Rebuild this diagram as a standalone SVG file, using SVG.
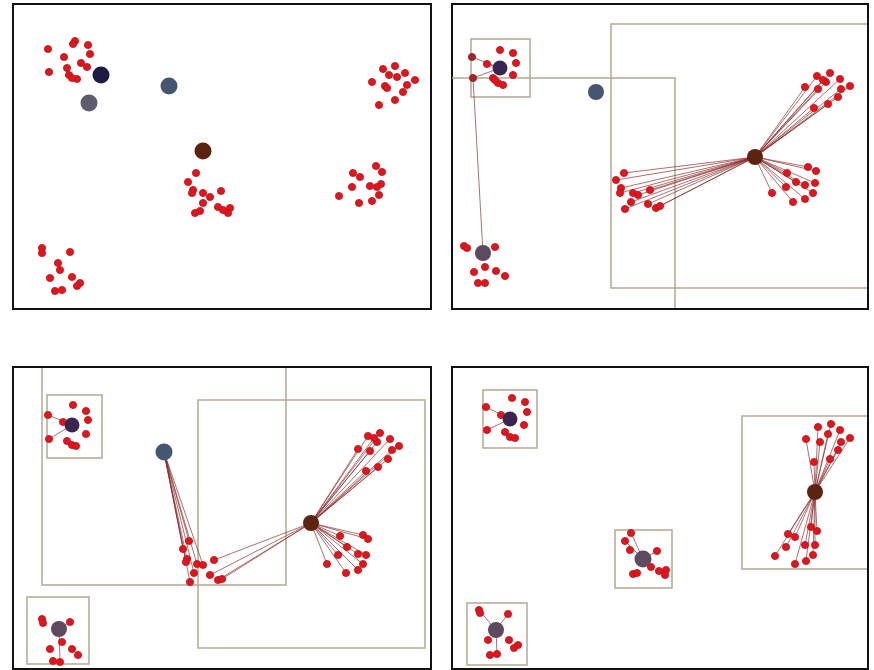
<svg xmlns="http://www.w3.org/2000/svg" width="874" height="670" viewBox="0 0 874 670">
<style>
.frame{fill:#fff;stroke:#111;stroke-width:2}
.p{fill:#e3141c;stroke:#b8141a;stroke-width:0.8}
.pd{fill:#a8242a;stroke:#8a1c20;stroke-width:0.8}
.b{fill:none;stroke:#b3a892;stroke-width:1.5}
.l{stroke:#8c2a2a;stroke-width:0.8;stroke-opacity:0.85}
.navy{fill:#1d1a42}
.gray{fill:#5f5d6c}
.slate{fill:#455670}
.brown{fill:#5c2410}
.purple{fill:#3c2450}
.gp{fill:#5e4a5e}
</style>
<defs>
<clipPath id="c2"><rect x="452" y="5" width="415" height="303"/></clipPath>
<clipPath id="c3"><rect x="13" y="368" width="417" height="300"/></clipPath>
<clipPath id="c4"><rect x="452" y="368" width="415" height="300"/></clipPath>
</defs>

<rect id="panel1" class="frame" x="13" y="4" width="418" height="305"/>
<rect id="panel2" class="frame" x="452" y="4" width="416" height="305"/>
<rect id="panel3" class="frame" x="13" y="367" width="418" height="302"/>
<rect id="panel4" class="frame" x="452" y="367" width="416" height="302"/>

<!-- Panel 1 -->
<g id="p1-points">
<circle class="p" cx="48" cy="49" r="3.6"/><circle class="p" cx="75" cy="41" r="3.6"/><circle class="p" cx="73" cy="44" r="3.6"/><circle class="p" cx="88" cy="45" r="3.6"/><circle class="p" cx="90" cy="54" r="3.6"/><circle class="p" cx="64" cy="57" r="3.6"/><circle class="p" cx="81" cy="63" r="3.6"/><circle class="p" cx="87" cy="67" r="3.6"/><circle class="p" cx="49" cy="72" r="3.6"/><circle class="p" cx="67" cy="68" r="3.6"/><circle class="p" cx="69" cy="75" r="3.6"/><circle class="p" cx="77" cy="79" r="3.6"/><circle class="p" cx="72" cy="78" r="3.6"/>
<circle class="p" cx="196" cy="173" r="3.6"/><circle class="p" cx="188" cy="182" r="3.6"/><circle class="p" cx="193" cy="190" r="3.6"/><circle class="p" cx="192" cy="193" r="3.6"/><circle class="p" cx="203" cy="193" r="3.6"/><circle class="p" cx="210" cy="197" r="3.6"/><circle class="p" cx="221" cy="191" r="3.6"/><circle class="p" cx="203" cy="203" r="3.6"/><circle class="p" cx="200" cy="211" r="3.6"/><circle class="p" cx="195" cy="213" r="3.6"/><circle class="p" cx="218" cy="207" r="3.6"/><circle class="p" cx="230" cy="208" r="3.6"/><circle class="p" cx="228" cy="213" r="3.6"/><circle class="p" cx="223" cy="210" r="3.6"/>
<circle class="p" cx="383" cy="69" r="3.6"/><circle class="p" cx="395" cy="66" r="3.6"/><circle class="p" cx="405" cy="73" r="3.6"/><circle class="p" cx="415" cy="80" r="3.6"/><circle class="p" cx="372" cy="82" r="3.6"/><circle class="p" cx="385" cy="86" r="3.6"/><circle class="p" cx="397" cy="77" r="3.6"/><circle class="p" cx="389" cy="75" r="3.6"/><circle class="p" cx="407" cy="85" r="3.6"/><circle class="p" cx="403" cy="92" r="3.6"/><circle class="p" cx="395" cy="100" r="3.6"/><circle class="p" cx="379" cy="105" r="3.6"/><circle class="p" cx="387" cy="88" r="3.6"/>
<circle class="p" cx="376" cy="166" r="3.6"/><circle class="p" cx="382" cy="172" r="3.6"/><circle class="p" cx="353" cy="173" r="3.6"/><circle class="p" cx="360" cy="177" r="3.6"/><circle class="p" cx="352" cy="187" r="3.6"/><circle class="p" cx="370" cy="186" r="3.6"/><circle class="p" cx="381" cy="184" r="3.6"/><circle class="p" cx="379" cy="195" r="3.6"/><circle class="p" cx="339" cy="196" r="3.6"/><circle class="p" cx="359" cy="203" r="3.6"/><circle class="p" cx="372" cy="201" r="3.6"/><circle class="p" cx="377" cy="187" r="3.6"/>
<circle class="p" cx="42" cy="248" r="3.6"/><circle class="p" cx="42" cy="253" r="3.6"/><circle class="p" cx="70" cy="252" r="3.6"/><circle class="p" cx="58" cy="263" r="3.6"/><circle class="p" cx="60" cy="270" r="3.6"/><circle class="p" cx="50" cy="278" r="3.6"/><circle class="p" cx="72" cy="277" r="3.6"/><circle class="p" cx="80" cy="283" r="3.6"/><circle class="p" cx="77" cy="286" r="3.6"/><circle class="p" cx="55" cy="291" r="3.6"/><circle class="p" cx="62" cy="290" r="3.6"/>
</g>
<g id="p1-centers">
<circle class="navy" cx="101" cy="75" r="8.5"/>
<circle class="gray" cx="89" cy="103" r="8.5"/>
<circle class="slate" cx="169" cy="86" r="8.5"/>
<circle class="brown" cx="203" cy="151" r="8.5"/>
</g>

<!-- Panel 2 -->
<g id="p2-boxes" clip-path="url(#c2)">
<rect class="b" x="471" y="39" width="59" height="58"/>
<rect class="b" x="420" y="78" width="255" height="260"/>
<rect class="b" x="611" y="24" width="290" height="264"/>
</g>
<g id="p2-connectors">
<line class="l" x1="473" y1="78" x2="483" y2="253"/>
<line class="l" x1="500" y1="68" x2="487" y2="64"/><line class="l" x1="500" y1="68" x2="472" y2="57"/><line class="l" x1="500" y1="68" x2="473" y2="78"/>
<line class="l" x1="755" y1="157" x2="624" y2="173"/><line class="l" x1="755" y1="157" x2="616" y2="180"/><line class="l" x1="755" y1="157" x2="621" y2="188"/><line class="l" x1="755" y1="157" x2="633" y2="193"/><line class="l" x1="755" y1="157" x2="638" y2="195"/><line class="l" x1="755" y1="157" x2="650" y2="190"/><line class="l" x1="755" y1="157" x2="631" y2="202"/><line class="l" x1="755" y1="157" x2="625" y2="209"/><line class="l" x1="755" y1="157" x2="648" y2="204"/><line class="l" x1="755" y1="157" x2="656" y2="208"/><line class="l" x1="755" y1="157" x2="660" y2="206"/><line class="l" x1="755" y1="157" x2="620" y2="193"/>
<line class="l" x1="755" y1="157" x2="817" y2="76"/><line class="l" x1="755" y1="157" x2="830" y2="73"/><line class="l" x1="755" y1="157" x2="840" y2="79"/><line class="l" x1="755" y1="157" x2="850" y2="86"/><line class="l" x1="755" y1="157" x2="805" y2="87"/><line class="l" x1="755" y1="157" x2="818" y2="89"/><line class="l" x1="755" y1="157" x2="826" y2="82"/><line class="l" x1="755" y1="157" x2="841" y2="89"/><line class="l" x1="755" y1="157" x2="838" y2="97"/><line class="l" x1="755" y1="157" x2="828" y2="104"/><line class="l" x1="755" y1="157" x2="814" y2="108"/><line class="l" x1="755" y1="157" x2="823" y2="80"/>
<line class="l" x1="755" y1="157" x2="808" y2="167"/><line class="l" x1="755" y1="157" x2="816" y2="171"/><line class="l" x1="755" y1="157" x2="787" y2="173"/><line class="l" x1="755" y1="157" x2="796" y2="182"/><line class="l" x1="755" y1="157" x2="786" y2="187"/><line class="l" x1="755" y1="157" x2="805" y2="185"/><line class="l" x1="755" y1="157" x2="815" y2="183"/><line class="l" x1="755" y1="157" x2="813" y2="193"/><line class="l" x1="755" y1="157" x2="772" y2="193"/><line class="l" x1="755" y1="157" x2="793" y2="202"/><line class="l" x1="755" y1="157" x2="805" y2="199"/>
</g>
<g id="p2-points">
<circle class="p" cx="500" cy="50" r="3.6"/><circle class="p" cx="513" cy="53" r="3.6"/><circle class="p" cx="516" cy="63" r="3.6"/><circle class="p" cx="487" cy="64" r="3.6"/><circle class="p" cx="513" cy="75" r="3.6"/><circle class="p" cx="493" cy="78" r="3.6"/><circle class="p" cx="498" cy="83" r="3.6"/><circle class="p" cx="503" cy="85" r="3.6"/><circle class="p" cx="495" cy="80" r="3.6"/>
<circle class="pd" cx="472" cy="57" r="3.6"/><circle class="pd" cx="473" cy="78" r="3.6"/>
<circle class="p" cx="464" cy="246" r="3.6"/><circle class="p" cx="467" cy="248" r="3.6"/><circle class="p" cx="495" cy="247" r="3.6"/><circle class="p" cx="474" cy="272" r="3.6"/><circle class="p" cx="485" cy="267" r="3.6"/><circle class="p" cx="496" cy="271" r="3.6"/><circle class="p" cx="505" cy="276" r="3.6"/><circle class="p" cx="478" cy="283" r="3.6"/><circle class="p" cx="485" cy="283" r="3.6"/>
<circle class="p" cx="624" cy="173" r="3.6"/><circle class="p" cx="616" cy="180" r="3.6"/><circle class="p" cx="621" cy="188" r="3.6"/><circle class="p" cx="633" cy="193" r="3.6"/><circle class="p" cx="638" cy="195" r="3.6"/><circle class="p" cx="650" cy="190" r="3.6"/><circle class="p" cx="631" cy="202" r="3.6"/><circle class="p" cx="625" cy="209" r="3.6"/><circle class="p" cx="648" cy="204" r="3.6"/><circle class="p" cx="656" cy="208" r="3.6"/><circle class="p" cx="660" cy="206" r="3.6"/><circle class="p" cx="620" cy="193" r="3.6"/>
<circle class="p" cx="817" cy="76" r="3.6"/><circle class="p" cx="830" cy="73" r="3.6"/><circle class="p" cx="840" cy="79" r="3.6"/><circle class="p" cx="850" cy="86" r="3.6"/><circle class="p" cx="805" cy="87" r="3.6"/><circle class="p" cx="818" cy="89" r="3.6"/><circle class="p" cx="826" cy="82" r="3.6"/><circle class="p" cx="841" cy="89" r="3.6"/><circle class="p" cx="838" cy="97" r="3.6"/><circle class="p" cx="828" cy="104" r="3.6"/><circle class="p" cx="814" cy="108" r="3.6"/><circle class="p" cx="823" cy="80" r="3.6"/>
<circle class="p" cx="808" cy="167" r="3.6"/><circle class="p" cx="816" cy="171" r="3.6"/><circle class="p" cx="787" cy="173" r="3.6"/><circle class="p" cx="796" cy="182" r="3.6"/><circle class="p" cx="786" cy="187" r="3.6"/><circle class="p" cx="805" cy="185" r="3.6"/><circle class="p" cx="815" cy="183" r="3.6"/><circle class="p" cx="813" cy="193" r="3.6"/><circle class="p" cx="772" cy="193" r="3.6"/><circle class="p" cx="793" cy="202" r="3.6"/><circle class="p" cx="805" cy="199" r="3.6"/>
</g>
<g id="p2-centers">
<circle class="purple" cx="500" cy="68" r="7.5"/>
<circle class="gp" cx="483" cy="253" r="8"/>
<circle class="slate" cx="596" cy="92" r="8"/>
<circle class="brown" cx="755" cy="157" r="8"/>
</g>

<!-- Panel 3 -->
<g id="p3-boxes" clip-path="url(#c3)">
<rect class="b" x="42" y="340" width="244" height="245"/>
<rect class="b" x="198" y="400" width="227" height="248"/>
<rect class="b" x="47" y="395" width="55" height="63"/>
<rect class="b" x="27" y="597" width="62" height="67"/>
</g>
<g id="p3-connectors">
<line class="l" x1="72" y1="425" x2="48" y2="415"/><line class="l" x1="72" y1="425" x2="49" y2="439"/><line class="l" x1="72" y1="425" x2="63" y2="422"/>
<line class="l" x1="164" y1="452" x2="189" y2="541"/><line class="l" x1="164" y1="452" x2="183" y2="549"/><line class="l" x1="164" y1="452" x2="187" y2="559"/><line class="l" x1="164" y1="452" x2="197" y2="564"/><line class="l" x1="164" y1="452" x2="203" y2="565"/><line class="l" x1="164" y1="452" x2="194" y2="573"/><line class="l" x1="164" y1="452" x2="190" y2="582"/><line class="l" x1="164" y1="452" x2="186" y2="562"/>
<line class="l" x1="311" y1="523" x2="214" y2="560"/><line class="l" x1="311" y1="523" x2="218" y2="580"/><line class="l" x1="311" y1="523" x2="222" y2="579"/><line class="l" x1="311" y1="523" x2="210" y2="575"/>
<line class="l" x1="311" y1="523" x2="368" y2="436"/><line class="l" x1="311" y1="523" x2="380" y2="433"/><line class="l" x1="311" y1="523" x2="390" y2="439"/><line class="l" x1="311" y1="523" x2="399" y2="446"/><line class="l" x1="311" y1="523" x2="358" y2="449"/><line class="l" x1="311" y1="523" x2="370" y2="451"/><line class="l" x1="311" y1="523" x2="377" y2="442"/><line class="l" x1="311" y1="523" x2="392" y2="450"/><line class="l" x1="311" y1="523" x2="388" y2="459"/><line class="l" x1="311" y1="523" x2="378" y2="467"/><line class="l" x1="311" y1="523" x2="366" y2="471"/><line class="l" x1="311" y1="523" x2="374" y2="438"/>
<line class="l" x1="311" y1="523" x2="363" y2="535"/><line class="l" x1="311" y1="523" x2="368" y2="539"/><line class="l" x1="311" y1="523" x2="340" y2="536"/><line class="l" x1="311" y1="523" x2="347" y2="547"/><line class="l" x1="311" y1="523" x2="338" y2="555"/><line class="l" x1="311" y1="523" x2="358" y2="554"/><line class="l" x1="311" y1="523" x2="366" y2="555"/><line class="l" x1="311" y1="523" x2="363" y2="564"/><line class="l" x1="311" y1="523" x2="327" y2="564"/><line class="l" x1="311" y1="523" x2="346" y2="573"/><line class="l" x1="311" y1="523" x2="358" y2="570"/>
<line class="l" x1="59" y1="629" x2="60" y2="662"/><line class="l" x1="59" y1="629" x2="70" y2="622"/>
</g>
<g id="p3-points">
<circle class="p" cx="73" cy="405" r="3.6"/><circle class="p" cx="86" cy="411" r="3.6"/><circle class="p" cx="88" cy="420" r="3.6"/><circle class="p" cx="48" cy="415" r="3.6"/><circle class="p" cx="63" cy="422" r="3.6"/><circle class="p" cx="86" cy="434" r="3.6"/><circle class="p" cx="49" cy="439" r="3.6"/><circle class="p" cx="67" cy="441" r="3.6"/><circle class="p" cx="72" cy="445" r="3.6"/><circle class="p" cx="76" cy="446" r="3.6"/>
<circle class="p" cx="189" cy="541" r="3.6"/><circle class="p" cx="183" cy="549" r="3.6"/><circle class="p" cx="187" cy="559" r="3.6"/><circle class="p" cx="197" cy="564" r="3.6"/><circle class="p" cx="203" cy="565" r="3.6"/><circle class="p" cx="194" cy="573" r="3.6"/><circle class="p" cx="190" cy="582" r="3.6"/><circle class="p" cx="186" cy="562" r="3.6"/><circle class="p" cx="214" cy="560" r="3.6"/><circle class="p" cx="218" cy="580" r="3.6"/><circle class="p" cx="222" cy="579" r="3.6"/><circle class="p" cx="210" cy="575" r="3.6"/>
<circle class="p" cx="368" cy="436" r="3.6"/><circle class="p" cx="380" cy="433" r="3.6"/><circle class="p" cx="390" cy="439" r="3.6"/><circle class="p" cx="399" cy="446" r="3.6"/><circle class="p" cx="358" cy="449" r="3.6"/><circle class="p" cx="370" cy="451" r="3.6"/><circle class="p" cx="377" cy="442" r="3.6"/><circle class="p" cx="392" cy="450" r="3.6"/><circle class="p" cx="388" cy="459" r="3.6"/><circle class="p" cx="378" cy="467" r="3.6"/><circle class="p" cx="366" cy="471" r="3.6"/><circle class="p" cx="374" cy="438" r="3.6"/>
<circle class="p" cx="363" cy="535" r="3.6"/><circle class="p" cx="368" cy="539" r="3.6"/><circle class="p" cx="340" cy="536" r="3.6"/><circle class="p" cx="347" cy="547" r="3.6"/><circle class="p" cx="338" cy="555" r="3.6"/><circle class="p" cx="358" cy="554" r="3.6"/><circle class="p" cx="366" cy="555" r="3.6"/><circle class="p" cx="363" cy="564" r="3.6"/><circle class="p" cx="327" cy="564" r="3.6"/><circle class="p" cx="346" cy="573" r="3.6"/><circle class="p" cx="358" cy="570" r="3.6"/>
<circle class="p" cx="42" cy="619" r="3.6"/><circle class="p" cx="43" cy="623" r="3.6"/><circle class="p" cx="70" cy="622" r="3.6"/><circle class="p" cx="50" cy="649" r="3.6"/><circle class="p" cx="62" cy="642" r="3.6"/><circle class="p" cx="72" cy="649" r="3.6"/><circle class="p" cx="78" cy="655" r="3.6"/><circle class="p" cx="53" cy="661" r="3.6"/><circle class="p" cx="60" cy="662" r="3.6"/>
</g>
<g id="p3-centers">
<circle class="purple" cx="72" cy="425" r="7.5"/>
<circle class="slate" cx="164" cy="452" r="8.5"/>
<circle class="brown" cx="311" cy="523" r="8"/>
<circle class="gp" cx="59" cy="629" r="8"/>
</g>

<!-- Panel 4 -->
<g id="p4-boxes" clip-path="url(#c4)">
<rect class="b" x="483" y="390" width="54" height="58"/>
<rect class="b" x="615" y="530" width="57" height="58"/>
<rect class="b" x="467" y="603" width="60" height="62"/>
<rect class="b" x="742" y="416" width="160" height="153"/>
</g>
<g id="p4-connectors">
<line class="l" x1="510" y1="419" x2="486" y2="407"/><line class="l" x1="510" y1="419" x2="487" y2="430"/><line class="l" x1="510" y1="419" x2="501" y2="415"/>
<line class="l" x1="643" y1="559" x2="631" y2="533"/><line class="l" x1="643" y1="559" x2="625" y2="541"/><line class="l" x1="643" y1="559" x2="657" y2="551"/>
<line class="l" x1="496" y1="630" x2="479" y2="610"/><line class="l" x1="496" y1="630" x2="508" y2="614"/><line class="l" x1="496" y1="630" x2="497" y2="654"/>
<line class="l" x1="815" y1="492" x2="818" y2="427"/><line class="l" x1="815" y1="492" x2="831" y2="424"/><line class="l" x1="815" y1="492" x2="840" y2="430"/><line class="l" x1="815" y1="492" x2="850" y2="438"/><line class="l" x1="815" y1="492" x2="806" y2="439"/><line class="l" x1="815" y1="492" x2="820" y2="442"/><line class="l" x1="815" y1="492" x2="828" y2="434"/><line class="l" x1="815" y1="492" x2="841" y2="442"/><line class="l" x1="815" y1="492" x2="838" y2="450"/><line class="l" x1="815" y1="492" x2="830" y2="459"/><line class="l" x1="815" y1="492" x2="814" y2="462"/>
<line class="l" x1="815" y1="492" x2="811" y2="527"/><line class="l" x1="815" y1="492" x2="817" y2="531"/><line class="l" x1="815" y1="492" x2="788" y2="534"/><line class="l" x1="815" y1="492" x2="795" y2="537"/><line class="l" x1="815" y1="492" x2="786" y2="547"/><line class="l" x1="815" y1="492" x2="805" y2="545"/><line class="l" x1="815" y1="492" x2="815" y2="545"/><line class="l" x1="815" y1="492" x2="813" y2="555"/><line class="l" x1="815" y1="492" x2="775" y2="556"/><line class="l" x1="815" y1="492" x2="795" y2="564"/><line class="l" x1="815" y1="492" x2="806" y2="561"/>
</g>
<g id="p4-points">
<circle class="p" cx="512" cy="398" r="3.6"/><circle class="p" cx="525" cy="402" r="3.6"/><circle class="p" cx="527" cy="412" r="3.6"/><circle class="p" cx="486" cy="407" r="3.6"/><circle class="p" cx="501" cy="415" r="3.6"/><circle class="p" cx="524" cy="425" r="3.6"/><circle class="p" cx="487" cy="430" r="3.6"/><circle class="p" cx="505" cy="432" r="3.6"/><circle class="p" cx="510" cy="437" r="3.6"/><circle class="p" cx="515" cy="438" r="3.6"/>
<circle class="p" cx="631" cy="533" r="3.6"/><circle class="p" cx="625" cy="541" r="3.6"/><circle class="p" cx="630" cy="550" r="3.6"/><circle class="p" cx="657" cy="551" r="3.6"/><circle class="p" cx="633" cy="574" r="3.6"/><circle class="p" cx="651" cy="567" r="3.6"/><circle class="p" cx="659" cy="571" r="3.6"/><circle class="p" cx="666" cy="570" r="3.6"/><circle class="p" cx="665" cy="575" r="3.6"/><circle class="p" cx="637" cy="573" r="3.6"/>
<circle class="p" cx="479" cy="610" r="3.6"/><circle class="p" cx="480" cy="613" r="3.6"/><circle class="p" cx="508" cy="614" r="3.6"/><circle class="p" cx="488" cy="640" r="3.6"/><circle class="p" cx="509" cy="640" r="3.6"/><circle class="p" cx="518" cy="645" r="3.6"/><circle class="p" cx="490" cy="655" r="3.6"/><circle class="p" cx="497" cy="654" r="3.6"/><circle class="p" cx="514" cy="648" r="3.6"/>
<circle class="p" cx="818" cy="427" r="3.6"/><circle class="p" cx="831" cy="424" r="3.6"/><circle class="p" cx="840" cy="430" r="3.6"/><circle class="p" cx="850" cy="438" r="3.6"/><circle class="p" cx="806" cy="439" r="3.6"/><circle class="p" cx="820" cy="442" r="3.6"/><circle class="p" cx="828" cy="434" r="3.6"/><circle class="p" cx="841" cy="442" r="3.6"/><circle class="p" cx="838" cy="450" r="3.6"/><circle class="p" cx="830" cy="459" r="3.6"/><circle class="p" cx="814" cy="462" r="3.6"/>
<circle class="p" cx="811" cy="527" r="3.6"/><circle class="p" cx="817" cy="531" r="3.6"/><circle class="p" cx="788" cy="534" r="3.6"/><circle class="p" cx="795" cy="537" r="3.6"/><circle class="p" cx="786" cy="547" r="3.6"/><circle class="p" cx="805" cy="545" r="3.6"/><circle class="p" cx="815" cy="545" r="3.6"/><circle class="p" cx="813" cy="555" r="3.6"/><circle class="p" cx="775" cy="556" r="3.6"/><circle class="p" cx="795" cy="564" r="3.6"/><circle class="p" cx="806" cy="561" r="3.6"/>
</g>
<g id="p4-centers">
<circle class="purple" cx="510" cy="419" r="7.5"/>
<circle class="gp" cx="643" cy="559" r="8.5"/>
<circle class="gp" cx="496" cy="630" r="8"/>
<circle class="brown" cx="815" cy="492" r="8"/>
</g>
</svg>
